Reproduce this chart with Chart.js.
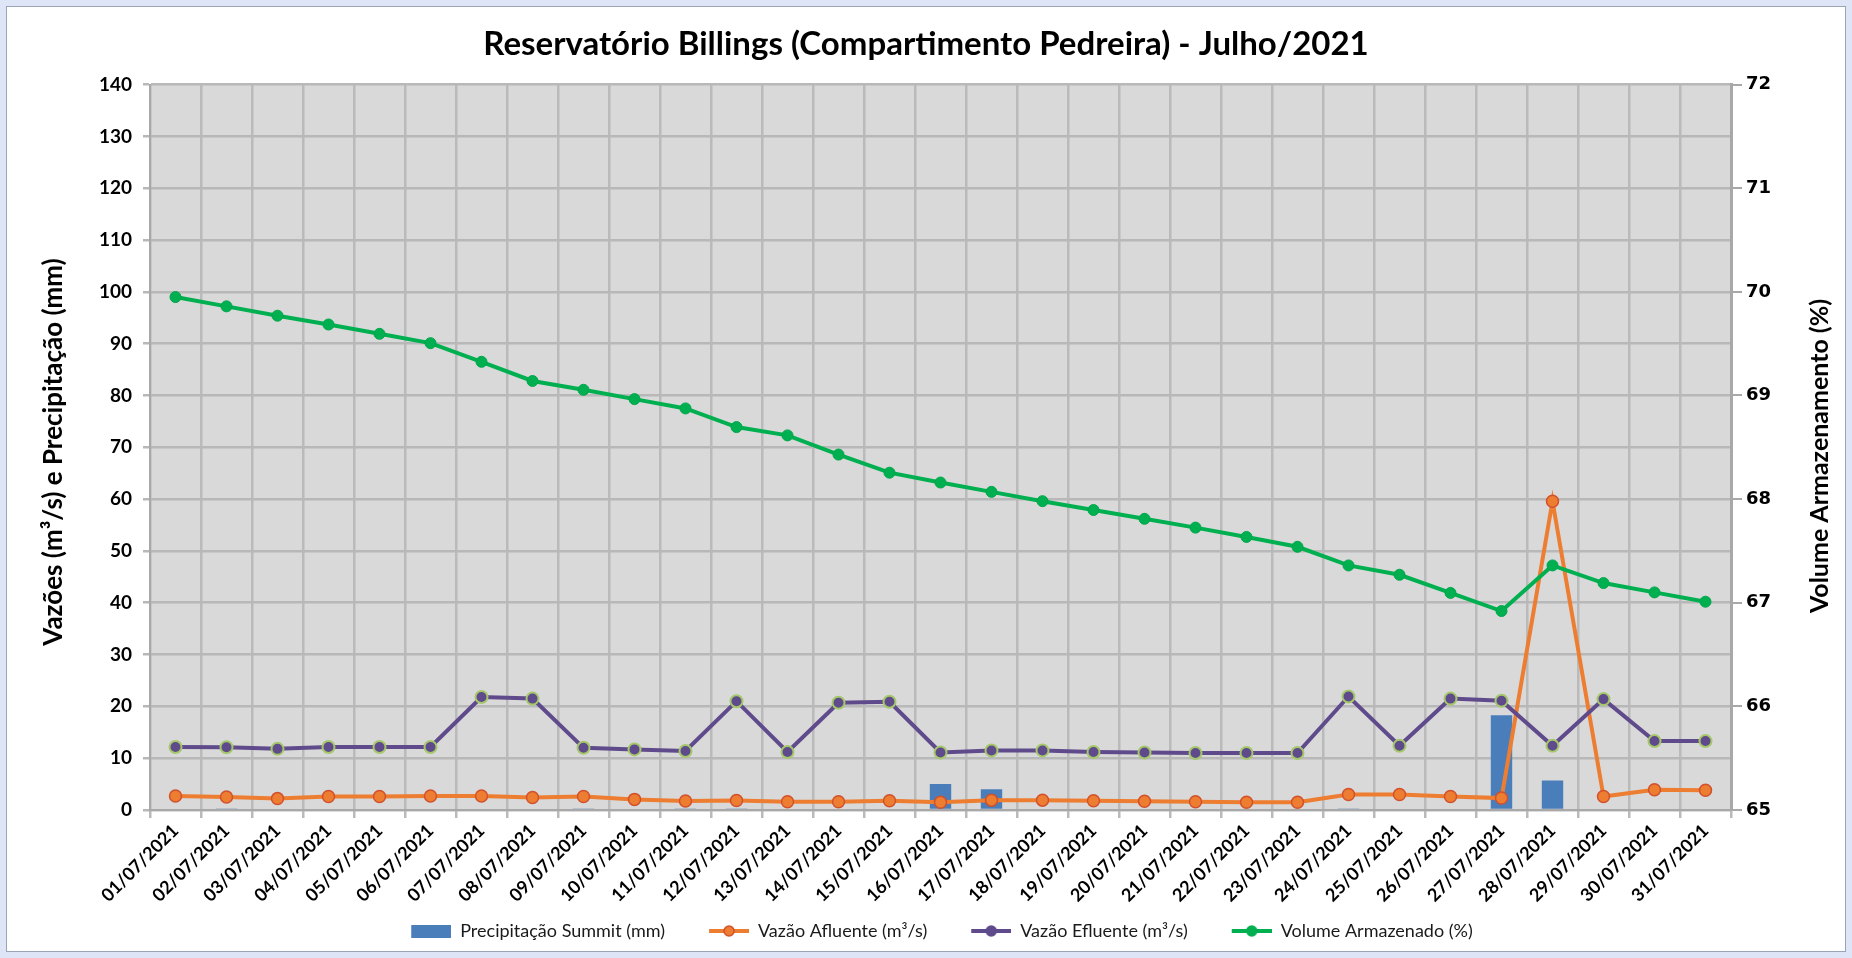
<!DOCTYPE html>
<html>
<head>
<meta charset="utf-8">
<script src="https://cdn.jsdelivr.net/npm/chart.js@4.4.1/dist/chart.umd.min.js"></script>
<style>
  html, body { margin: 0; padding: 0; background: #dde5f7; }
  #frame { position: absolute; left: 6px; top: 6px; width: 1838px; height: 944px; background: #fff; border: 1px solid #9ba3b6; }
  #token_dist { position: absolute; left: 0; top: 0; }
</style>
</head>
<body>
<div id="frame"></div>
<canvas id="token_dist" width="1852" height="958"></canvas>
<script>
// dias do mês
var dias = [
  '01/07/2021','02/07/2021','03/07/2021','04/07/2021','05/07/2021','06/07/2021','07/07/2021',
  '08/07/2021','09/07/2021','10/07/2021','11/07/2021','12/07/2021','13/07/2021','14/07/2021',
  '15/07/2021','16/07/2021','17/07/2021','18/07/2021','19/07/2021','20/07/2021','21/07/2021',
  '22/07/2021','23/07/2021','24/07/2021','25/07/2021','26/07/2021','27/07/2021','28/07/2021',
  '29/07/2021','30/07/2021','31/07/2021'
];

// Precipitação Summit (mm)
var precipitacao = [0, 0.3, 0, 0, 0, 0, 0, 0, 0.3, 0, 0.2, 0.2, 0, 0, 0, 5.0,
  4.0, 0, 0, 0, 0, 0, 0, 0.3, 0, 0, 18.3, 5.7, 0, 0, 0];

// Vazão Afluente (m³/s)
var afluente = [2.7, 2.5, 2.2, 2.6, 2.6, 2.7, 2.7, 2.4, 2.6, 2.05, 1.75, 1.85, 1.6, 1.6,
  1.8, 1.5, 1.9, 1.9, 1.8, 1.7, 1.6, 1.5, 1.5, 3.0, 3.0, 2.6, 2.3, 59.6, 2.6, 3.9, 3.8];

// Vazão Efluente (m³/s)
var efluente = [12.15, 12.1, 11.8, 12.15, 12.15, 12.15, 21.8, 21.5, 12.0, 11.7, 11.4, 21.0,
  11.2, 20.7, 20.9, 11.1, 11.5, 11.5, 11.2, 11.1, 11.0, 11.0, 11.0, 21.9, 12.4, 21.5, 21.1,
  12.4, 21.4, 13.3, 13.3];

// Volume Armazenado (%)
var volume = [69.95, 69.86, 69.77, 69.685, 69.595, 69.505, 69.325, 69.14, 69.055, 68.965,
  68.875, 68.695, 68.615, 68.43, 68.255, 68.16, 68.07, 67.98, 67.895, 67.81, 67.725, 67.635,
  67.54, 67.36, 67.27, 67.095, 66.92, 67.36, 67.19, 67.10, 67.01];

var yTicks = { min: 0, max: 140, step: 10 };
var y1Ticks = { min: 65, max: 72, step: 1 };

var FONT = 'Lato, "Open Sans", sans-serif';
var SW_GAP = 32;   // empty room left of each legend swatch

// legend swatches
function lineSwatch(color, dot, edge) {
  var c = document.createElement('canvas');
  c.width = 40 + SW_GAP; c.height = 14;
  var g = c.getContext('2d');
  g.strokeStyle = color; g.lineWidth = 4;
  g.beginPath(); g.moveTo(SW_GAP, 7); g.lineTo(SW_GAP + 40, 7); g.stroke();
  g.fillStyle = dot; g.strokeStyle = edge; g.lineWidth = 1.5;
  g.beginPath(); g.arc(SW_GAP + 20, 7, 5, 0, Math.PI * 2); g.fill(); g.stroke();
  return c;
}
function barSwatch(color) {
  var c = document.createElement('canvas');
  c.width = 40 + SW_GAP; c.height = 13;
  var g = c.getContext('2d');
  g.fillStyle = color; g.fillRect(SW_GAP, 0, 40, 13);
  return c;
}

var plotBg = {
  id: 'plotBg',
  beforeDraw: function(chart) {
    var a = chart.chartArea, ctx = chart.ctx;
    ctx.save();
    ctx.fillStyle = '#d9d9d9';
    ctx.fillRect(a.left, a.top, a.right - a.left, a.bottom - a.top);
    ctx.restore();
  }
};

// axis titles, both read bottom-to-top like the source
function vTitle(ctx, text, x, y, size) {
  ctx.save();
  ctx.translate(x, y);
  ctx.rotate(-Math.PI / 2);
  ctx.font = 'bold ' + size + 'px ' + FONT;
  ctx.fillStyle = '#000';
  ctx.textAlign = 'center';
  ctx.textBaseline = 'middle';
  ctx.fillText(text, 0, 0);
  ctx.restore();
}
var axisTitles = {
  id: 'axisTitles',
  afterDraw: function(chart) {
    vTitle(chart.ctx, 'Vazões (m³/s) e Precipitação (mm)', 54, 452, 26);
    vTitle(chart.ctx, 'Volume Armazenamento (%)', 1820, 456, 25);
  }
};

var config = {
  type: 'bar',
  data: {
    labels: dias,
    datasets: [{
      type: 'bar',
      label: 'Precipitação Summit (mm)',
      data: precipitacao,
      backgroundColor: '#4a7ebb',
      barPercentage: 0.42,
      categoryPercentage: 1,
      yAxisID: 'y',
      order: 4
    }, {
      type: 'line',
      label: 'Vazão Afluente (m³/s)',
      data: afluente,
      borderColor: '#ed7d31',
      borderWidth: 4,
      pointRadius: 6,
      pointBackgroundColor: '#ed7d31',
      pointBorderColor: '#d2502c',
      pointBorderWidth: 1.5,
      yAxisID: 'y',
      order: 3
    }, {
      type: 'line',
      label: 'Vazão Efluente (m³/s)',
      data: efluente,
      borderColor: '#5f4b8b',
      borderWidth: 4,
      pointRadius: 6,
      pointBackgroundColor: '#5f4b8b',
      pointBorderColor: '#a5c86a',
      pointBorderWidth: 2,
      yAxisID: 'y',
      order: 2
    }, {
      type: 'line',
      label: 'Volume Armazenado (%)',
      data: volume,
      borderColor: '#00b050',
      borderWidth: 4,
      pointRadius: 5.5,
      pointBackgroundColor: '#00b050',
      pointBorderColor: '#00a64a',
      pointBorderWidth: 1,
      yAxisID: 'y1',
      order: 1
    }]
  },
  options: {
    responsive: false,
    animation: false,
    layout: { padding: { left: 0, right: 0, top: 0, bottom: 8 } },
    plugins: {
      title: {
        display: true,
        text: 'Reservatório Billings (Compartimento Pedreira) - Julho/2021',
        color: '#000',
        font: { family: FONT, size: 33, weight: 'bold' },
        padding: { top: 25, bottom: 20 }
      },
      legend: {
        position: 'bottom',
        labels: {
          color: '#1a1a1a',
          font: { family: FONT, size: 18 },
          usePointStyle: true,
          pointStyleWidth: 40 + SW_GAP,
          padding: 12,
          generateLabels: function(chart) {
            var sw = [
              barSwatch('#4a7ebb'),
              lineSwatch('#ed7d31', '#ed7d31', '#d2502c'),
              lineSwatch('#5f4b8b', '#5f4b8b', '#5f4b8b'),
              lineSwatch('#00b050', '#00b050', '#00b050')
            ];
            return chart.data.datasets.map(function(ds, i) {
              return { text: ds.label, pointStyle: sw[i], datasetIndex: i, fontColor: '#1a1a1a', lineWidth: 0, strokeStyle: 'rgba(0,0,0,0)', fillStyle: 'rgba(0,0,0,0)' };
            });
          }
        }
      },
      tooltip: { enabled: false }
    },
    scales: {
      x: {
        offset: true,
        grid: { offset: true, color: '#bababa', lineWidth: 2.5, tickLength: 8 },
        border: { color: '#a8a8a8', width: 2 },
        ticks: {
          autoSkip: false, maxRotation: 45, minRotation: 45,
          color: '#000', font: { family: FONT, size: 18, weight: 'bold' }, padding: 2
        },
        afterFit: function(s) { s.height = 100; }
      },
      y: {
        position: 'left',
        min: yTicks.min, max: yTicks.max,
        grid: { color: '#b8b8b8', lineWidth: 2.5, tickLength: 7 },
        border: { color: '#a8a8a8', width: 2 },
        ticks: { stepSize: yTicks.step, color: '#000', padding: 11, font: { family: FONT, size: 19, weight: 'bold' } },
        afterFit: function(s) { s.width = 150; }
      },
      y1: {
        position: 'right',
        min: y1Ticks.min, max: y1Ticks.max,
        grid: { drawOnChartArea: false, color: '#a8a8a8', lineWidth: 2, tickLength: 11 },
        border: { color: '#a8a8a8', width: 3 },
        ticks: { stepSize: y1Ticks.step, color: '#000', padding: 4, font: { family: '"DejaVu Sans", sans-serif', size: 18, weight: 'bold' } },
        afterFit: function(s) { s.width = 121; }
      }
    }
  },
  plugins: [plotBg, axisTitles]
};

window.onload = function() {
  var ctx = document.getElementById('token_dist').getContext('2d');
  window.myChart = new Chart(ctx, config);
};
</script>
</body>
</html>
